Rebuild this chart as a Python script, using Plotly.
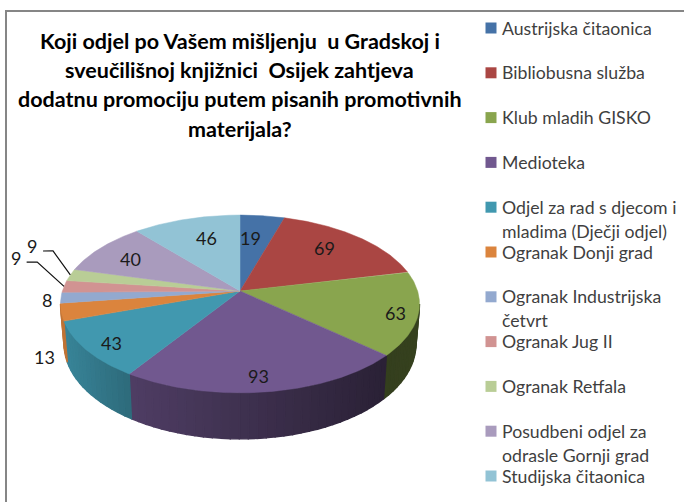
import numpy as np
import plotly.graph_objects as go

CATEGORIES = ["Austrijska čitaonica", "Bibliobusna služba", "Klub mladih GISKO", "Medioteka",
              "Odjel za rad s djecom i<br>mladima (Dječji odjel)", "Ogranak Donji grad",
              "Ogranak Industrijska<br>četvrt", "Ogranak Jug II", "Ogranak Retfala",
              "Posudbeni odjel za<br>odrasle Gornji grad", "Studijska čitaonica"]
VALUES = [19, 69, 63, 93, 43, 13, 8, 9, 9, 40, 46]
COLORS = ["#4572a7", "#aa4643", "#89a54e", "#71588f", "#4198af", "#db843d",
          "#93a9cf", "#d19392", "#b9cd96", "#a99bbd", "#92c3d5"]
TITLE_LINES = ["Koji odjel po Vašem mišljenju  u Gradskoj i",
               "sveučilišnoj knjižnici  Osijek zahtjeva",
               "dodatnu promociju putem pisanih promotivnih",
               "materijala?"]

# Pie projection (pixel-mapped hidden axes)
CX, CY, A, B, K, DEPTH, BOTTOM_SHRINK = 240, 291, 177.6, 87, 0.146, 39.3, 0.98
# Data label placement
LABEL_RADIUS = [.67, .74, .88, .86, .865, 1.206, 1.075, 1.394, 1.385, .76, .70]
LABEL_SHIFT = [-3, -2.75, 1.6, 1.4, -1.5, -21, -1, 13.6, 12.9, -1.6, 2.7]
LEADERS = {7: [(1.31, 12.4), (1.25, 13.2), (1.0, 0)], 8: [(1.287, 11.6), (1.232, 12.7), (1.0, 0)]}


def project(deg, r=1.0):
    t = np.radians(deg)
    s, c = r * np.sin(t), r * np.cos(t)
    w = 1 + K * c
    return CX + A * s / w, CY - B * c / w


def lower(deg):
    x, y = project(deg)
    w = 1 + K * np.cos(np.radians(deg))
    return CX + (x - CX) * BOTTOM_SHRINK, y + DEPTH / w


def shade_color(hex_color, f):
    rgb = [int(hex_color[i:i + 2], 16) for i in (1, 3, 5)]
    return "rgb(%d,%d,%d)" % tuple(int(v * f) for v in rgb)


total = sum(VALUES)
edges = np.concatenate([[0], np.cumsum(VALUES)]) / total * 360
mids = (edges[:-1] + edges[1:]) / 2
VIS_FROM, VIS_TO = 98.4, 261.6

fig = go.Figure()

# Side wall
for i, col in enumerate(COLORS):
    a0, a1 = max(edges[i], VIS_FROM), min(edges[i + 1], VIS_TO)
    if a1 <= a0:
        continue
    steps = np.linspace(a0, a1, max(2, int((a1 - a0) / 2.5) + 1))
    for p, q in zip(steps[:-1], steps[1:]):
        arc = np.linspace(p, q, 4)
        tx, ty = project(arc)
        bx, by = lower(arc)
        xm = project((p + q) / 2)[0]
        f = float(np.interp(xm, [60, 130, 385, 420], [.88, .70, .38, .40]))
        c = shade_color(col, f)
        fig.add_trace(go.Scatter(x=np.r_[tx, bx[::-1], tx[0]], y=np.r_[ty, by[::-1], ty[0]], fill="toself", fillcolor=c,
                                 mode="lines", line=dict(color=c, width=1.4), hoverinfo="skip", showlegend=False))

# Top face
for i, (name, col) in enumerate(zip(CATEGORIES, COLORS)):
    arc = np.linspace(edges[i], edges[i + 1], max(3, int(VALUES[i] * 2)))
    x, y = project(arc)
    fig.add_trace(go.Scatter(x=np.r_[CX, x, CX], y=np.r_[CY, y, CY], fill="toself", fillcolor=col, mode="lines",
                             line=dict(color=col, width=0.5), name=name.replace("<br>", " "), showlegend=False,
                             hoverinfo="name"))

# Leader lines
for i, pts in LEADERS.items():
    xy = [project(mids[i] + shift, r) for r, shift in pts]
    fig.add_trace(go.Scatter(x=[p[0] for p in xy], y=[p[1] for p in xy], mode="lines",
                             line=dict(color="#111111", width=1.2), hoverinfo="skip", showlegend=False))

ann = []
# Data labels
for i, v in enumerate(VALUES):
    x, y = project(mids[i] + LABEL_SHIFT[i], LABEL_RADIUS[i])
    ann.append(dict(x=x, y=y, text=str(v), showarrow=False, font=dict(family="Lato", size=18, color="#1a1a1a")))

# Title
TITLE_Y = [41, 70, 99, 129]
for line, y in zip(TITLE_LINES, TITLE_Y):
    ann.append(dict(x=239.5, y=y, text="<b>%s</b>" % line, showarrow=False,
                    font=dict(family="Lato", size=21.5, color="#000000")))

# Legend
LEG_Y0, LEG_STEP, LEG_PITCH = 28, 44.8, 24
mx, my = [], []
for i, name in enumerate(CATEGORIES):
    y = LEG_Y0 + LEG_STEP * i
    mx.append(491)
    my.append(y)
    for j, line in enumerate(name.split("<br>")):
        ann.append(dict(x=499.5, y=y + j * LEG_PITCH, text=line, showarrow=False, xanchor="left",
                        font=dict(family="Lato", size=17.7, color="#3f3f3f")))
fig.add_trace(go.Scatter(x=mx, y=my, mode="markers", hoverinfo="skip", showlegend=False,
                         marker=dict(symbol="square", size=11, color=COLORS, line=dict(width=0))))

shapes = [
    dict(type="line", x0=6, x1=6, y0=11, y1=502, line=dict(color="#868686", width=2)),
    dict(type="line", x0=5, x1=684, y0=11, y1=11, line=dict(color="#868686", width=2)),
]

fig.update_layout(
    width=684, height=502, margin=dict(l=0, r=0, t=0, b=0), showlegend=False,
    paper_bgcolor="white", plot_bgcolor="white", annotations=ann, shapes=shapes,
    xaxis=dict(range=[0, 684], visible=False, fixedrange=True),
    yaxis=dict(range=[502, 0], visible=False, fixedrange=True),
)
fig.write_html("out.html", post_script="document.body.style.margin='0';document.body.style.overflow='hidden';",
               config=dict(displayModeBar=False))
